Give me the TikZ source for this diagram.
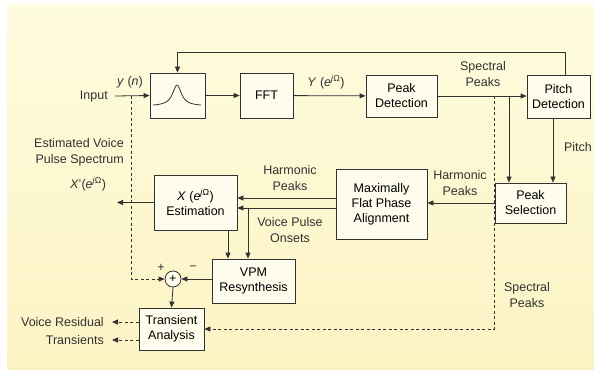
\documentclass[tikz,border=0pt]{standalone}
\usepackage{fontspec}
\setmainfont{Liberation Sans}
\usetikzlibrary{arrows.meta}
\definecolor{paperTop}{RGB}{254,252,222}
\definecolor{paperBot}{RGB}{252,243,196}
\definecolor{boxfill}{RGB}{254,252,236}
\definecolor{ink}{RGB}{50,50,50}
\tikzset{
  blk/.style={draw=ink, fill=boxfill, line width=0.8pt, rectangle, align=center, inner sep=0pt,
    font=\fontsize{12.5}{15}\selectfont},
  sig/.style={draw=ink, line width=0.8pt, -{Triangle[length=6pt,width=5pt]}},
  dsh/.style={sig, dash pattern=on 3pt off 2.5pt},
  lbl/.style={align=center, inner sep=0pt, text=ink, font=\fontsize{12.5}{16}\selectfont}
}
\begin{document}
\begin{tikzpicture}[x=1pt,y=-1pt]
\useasboundingbox (0,0) rectangle (594,374);
\fill[white] (0,0) rectangle (594,374);
\shade[top color=paperTop, bottom color=paperBot] (7,5) rectangle (594,369);

% blocks
\node[blk, minimum width=55, minimum height=45] (filt) at (177.5,95.5) {};
\draw[ink, line width=0.8pt] plot[domain=-1:1, samples=50] ({177+24*\x},{106-21/(1+(4.5*\x)^2)});
\node[blk, minimum width=53, minimum height=45] (fft) at (266.5,95.5) {FFT};
\node[blk, minimum width=71, minimum height=42] (pdet) at (401.5,96) {Peak\\Detection};
\node[blk, minimum width=63, minimum height=43] (pitch) at (558.5,96.5) {Pitch\\Detection};
\node[blk, minimum width=71, minimum height=40] (psel) at (530.5,203) {Peak\\Selection};
\node[blk, minimum width=91, minimum height=70] (mfpa) at (381.5,204) {Maximally\\Flat Phase\\Alignment};
\node[blk, minimum width=83, minimum height=55] (est) at (195.5,202.5) {\textit{X} (\textit{e}\textsuperscript{\textit{j}Ω})\\Estimation};
\node[blk, minimum width=83, minimum height=44] (vpm) at (253.5,281) {VPM\\Resynthesis};
\node[draw=ink, fill=boxfill, line width=0.8pt, circle, minimum size=16, inner sep=0pt,
  font=\fontsize{12}{13}\selectfont] (sum) at (173,279) {+};
\node[blk, minimum width=65, minimum height=42] (ta) at (171.5,329) {Transient\\Analysis};

% free ends
\coordinate (inp) at (115,96);
\coordinate (dtap) at (131,96);
\coordinate (ds) at (494,96);
\coordinate (sp) at (509,96);
\coordinate (fbk) at (177.5,52);
\coordinate (von) at (248,208);
\coordinate (xout) at (117,202.5);
\coordinate (vres) at (112,322);
\coordinate (trans) at (112,340);

% labels
\node[lbl, anchor=east] at (108,96) {Input};
\node[lbl] at (130,82) {\textit{y} (\textit{n})};
\node[lbl] at (326,82) {\textit{Y} (\textit{e}\textsuperscript{\textit{j}Ω})};
\node[lbl] at (483,74) {Spectral\\Peaks};
\node[lbl] at (578,147) {Pitch};
\node[lbl] at (460,183) {Harmonic\\Peaks};
\node[lbl] at (290,178) {Harmonic\\Peaks};
\node[lbl] at (290,230.5) {Voice Pulse\\Onsets};
\node[lbl, align=right, anchor=east] at (124,152.5) {Estimated Voice\\Pulse Spectrum};
\node[lbl] at (88,184) {\textit{X}'(\textit{e}\textsuperscript{\textit{j}Ω})};
\node[lbl] at (527,295) {Spectral\\Peaks};
\node[lbl] at (161,268) {+};
\node[lbl] at (193,268) {−};
\node[lbl, anchor=east] at (104,322) {Voice Residual};
\node[lbl, anchor=east] at (104,340) {Transients};

% connectors
\draw[sig] (inp) -- (filt.west);
\draw[sig] (filt) -- (fft);
\draw[sig] (fft) -- (pdet);
\draw[sig] (pdet) -- (pitch.west |- pdet);
\draw[sig] ([xshift=6.5pt]pitch.north) |- (fbk) -- (filt.north);
\draw[sig] (sp) -- (sp |- psel.north);
\draw[sig] ([xshift=-5.5pt]pitch.south) -- ([xshift=-5.5pt]pitch.south |- psel.north);
\draw[dsh] (ds) |- (ta.east);
\draw[sig] (psel.west) -- (psel.west -| mfpa.east);
\draw[sig] ([yshift=6pt]mfpa.west) -- ([yshift=6pt]mfpa.west -| est.east);
\draw[sig] ([yshift=-4pt]mfpa.west) -- ([yshift=-4pt]mfpa.west -| est.east);
\draw[sig] (von) -- (von |- vpm.north);
\draw[sig] ([xshift=32.5pt]est.south) -- ([xshift=32.5pt]est.south |- vpm.north);
\draw[sig] (est.west) -- (xout);
\draw[dsh] (dtap) |- (sum.west);
\draw[sig] (vpm.west |- sum) -- (sum.east);
\draw[sig] (sum.south) -- (ta.north);
\draw[dsh] ([yshift=7pt]ta.west) -- (vres);
\draw[dsh] ([yshift=-11pt]ta.west) -- (trans);
\end{tikzpicture}
\end{document}
